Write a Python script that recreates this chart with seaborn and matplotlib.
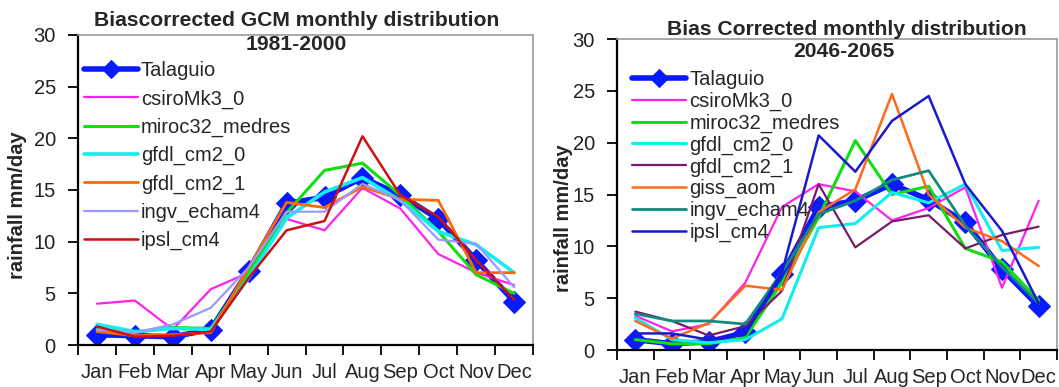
import numpy as np
import pandas as pd
import matplotlib
matplotlib.use("Agg")
import matplotlib.pyplot as plt
import seaborn as sns
from matplotlib.ticker import FixedLocator, NullFormatter

months = ["Jan", "Feb", "Mar", "Apr", "May", "Jun", "Jul", "Aug", "Sep", "Oct", "Nov", "Dec"]

# Observed station (same in both panels)
talaguio_hist = [1.0, 0.9, 0.8, 1.5, 7.2, 13.7, 14.3, 16.2, 14.5, 12.2, 8.2, 4.2]
talaguio_fut = [1.0, 0.6, 0.8, 1.7, 7.3, 13.8, 14.4, 16.0, 14.5, 12.3, 7.8, 4.2]

# Left panel: 1981-2000
h_csiro = [4.0, 4.3, 1.5, 5.4, 7.0, 12.2, 11.1, 15.2, 13.2, 8.8, 7.0, 5.8]
h_miroc = [1.5, 1.2, 1.7, 1.6, 7.0, 12.8, 16.9, 17.6, 14.5, 11.0, 6.8, 5.0]
h_gfdl0 = [2.0, 1.3, 1.6, 1.5, 6.5, 12.3, 14.8, 16.2, 14.0, 11.0, 9.7, 7.0]
h_gfdl1 = [1.3, 0.9, 1.0, 1.2, 7.5, 13.8, 13.3, 15.3, 14.1, 14.0, 7.0, 7.0]
h_ingv = [1.5, 1.2, 2.0, 3.6, 7.5, 12.9, 12.9, 15.6, 14.0, 10.2, 9.8, 5.6]
h_ipsl = [1.8, 0.8, 0.9, 1.3, 6.5, 11.1, 12.0, 20.2, 14.5, 12.4, 8.2, 4.4]

# Right panel: 2046-2065
f_csiro = [3.3, 1.8, 2.5, 6.5, 13.8, 16.0, 15.3, 12.5, 13.7, 15.7, 6.0, 14.4]
f_miroc = [1.0, 0.6, 0.6, 1.2, 6.5, 12.8, 20.2, 15.0, 15.8, 9.8, 8.5, 4.8]
f_gfdl0 = [3.1, 1.0, 0.7, 1.0, 3.0, 11.8, 12.2, 15.2, 14.2, 16.0, 9.6, 9.9]
f_gfdl1 = [3.7, 2.8, 1.4, 2.3, 5.7, 16.0, 9.9, 12.4, 13.0, 9.8, 11.1, 11.9]
f_giss = [2.8, 1.1, 2.6, 6.2, 5.8, 13.3, 15.5, 24.7, 15.0, 11.8, 10.5, 8.1]
f_ingv = [3.5, 2.8, 2.8, 2.5, 7.5, 13.1, 14.4, 16.4, 17.3, 12.0, 8.0, 4.5]
f_ipsl = [1.6, 1.6, 1.0, 1.5, 7.5, 20.7, 17.2, 22.1, 24.5, 16.0, 11.5, 4.5]

yticks = [0, 5, 10, 15, 20, 25, 30]

left_series = [
    ("Talaguio", talaguio_hist, "#0a1aff", 4.0),
    ("csiroMk3_0", h_csiro, "#ff22ee", 1.6),
    ("miroc32_medres", h_miroc, "#11dd11", 2.2),
    ("gfdl_cm2_0", h_gfdl0, "#11eeee", 2.6),
    ("gfdl_cm2_1", h_gfdl1, "#ff6a00", 2.0),
    ("ingv_echam4", h_ingv, "#9a9aff", 1.6),
    ("ipsl_cm4", h_ipsl, "#cc1111", 1.8),
]
right_series = [
    ("Talaguio", talaguio_fut, "#0a1aff", 4.0),
    ("csiroMk3_0", f_csiro, "#ff22ee", 1.6),
    ("miroc32_medres", f_miroc, "#11dd11", 2.2),
    ("gfdl_cm2_0", f_gfdl0, "#11eeee", 2.2),
    ("gfdl_cm2_1", f_gfdl1, "#7a1a6a", 1.6),
    ("giss_aom", f_giss, "#ff6a1a", 1.8),
    ("ingv_echam4", f_ingv, "#138a80", 2.0),
    ("ipsl_cm4", f_ipsl, "#1a1acc", 1.8),
]

sns.set_style("white")
plt.rcParams["font.family"] = ["Liberation Sans", "DejaVu Sans"]

fig = plt.figure(figsize=(10.59, 3.87), dpi=100)
axL = fig.add_axes([0.0737, 0.1085, 0.4297, 0.8011])
axR = fig.add_axes([0.5826, 0.0956, 0.4155, 0.8036])


def draw(ax, series, leg_spacing, leg_anchor):
    idx = np.arange(len(months))
    for name, vals, col, lw in series:
        df = pd.DataFrame({"m": idx, "v": vals})
        if name == "Talaguio":
            sns.lineplot(data=df, x="m", y="v", ax=ax, color=col, lw=lw,
                         marker="D", markersize=11, markeredgecolor=col,
                         label=name)
        else:
            sns.lineplot(data=df, x="m", y="v", ax=ax, color=col, lw=lw,
                         label=name)
    ax.set_xlim(-0.5, len(months) - 0.5)
    ax.set_ylim(0, 30)
    ax.set_yticks(yticks)
    ax.set_yticklabels([str(t) for t in yticks])
    ax.xaxis.set_major_locator(FixedLocator(np.arange(-0.5, len(months), 1)))
    ax.xaxis.set_major_formatter(NullFormatter())
    ax.xaxis.set_minor_locator(FixedLocator(idx))
    ax.set_xticklabels(months, minor=True)
    ax.tick_params(axis="x", which="major", direction="out", length=7,
                   width=1.3, color="black", bottom=True)
    ax.tick_params(axis="x", which="minor", length=0, pad=13, labelsize=14.5)
    ax.tick_params(axis="y", direction="out", length=7, width=1.3,
                   color="black", left=True, labelsize=14.5, pad=9,
                   labelcolor="#222222")
    for s in ["left", "bottom"]:
        ax.spines[s].set_color("black")
        ax.spines[s].set_linewidth(1.6)
    for s in ["top", "right"]:
        ax.spines[s].set_color("#999999")
        ax.spines[s].set_linewidth(1.2)
    ax.set_xlabel("")
    ax.set_ylabel("rainfall mm/day", fontsize=14.5, fontweight="bold")
    ax.legend(loc="upper left", bbox_to_anchor=leg_anchor, frameon=False,
              fontsize=14.5, handlelength=2.7, handletextpad=0.15,
              labelspacing=leg_spacing, borderaxespad=0, borderpad=0,
              numpoints=1, markerscale=0.8)


draw(axL, left_series, 0.45, (0.012, 0.915))
draw(axR, right_series, 0.13, (0.034, 0.9))
axL.yaxis.set_label_coords(-0.112, 0.45)
axR.yaxis.set_label_coords(-0.1, 0.425)

fig.text(0.280, 0.948, "Biascorrected GCM monthly distribution", ha="center",
         va="center", fontsize=15.2, fontweight="bold")
fig.text(0.280, 0.884, "1981-2000", ha="center", va="center", fontsize=15.2,
         fontweight="bold")
fig.text(0.800, 0.925, "Bias Corrected monthly distribution", ha="center",
         va="center", fontsize=15.2, fontweight="bold")
fig.text(0.797, 0.866, "2046-2065", ha="center", va="center", fontsize=15.2,
         fontweight="bold")

fig.savefig("out.png", dpi=100, facecolor="white")
